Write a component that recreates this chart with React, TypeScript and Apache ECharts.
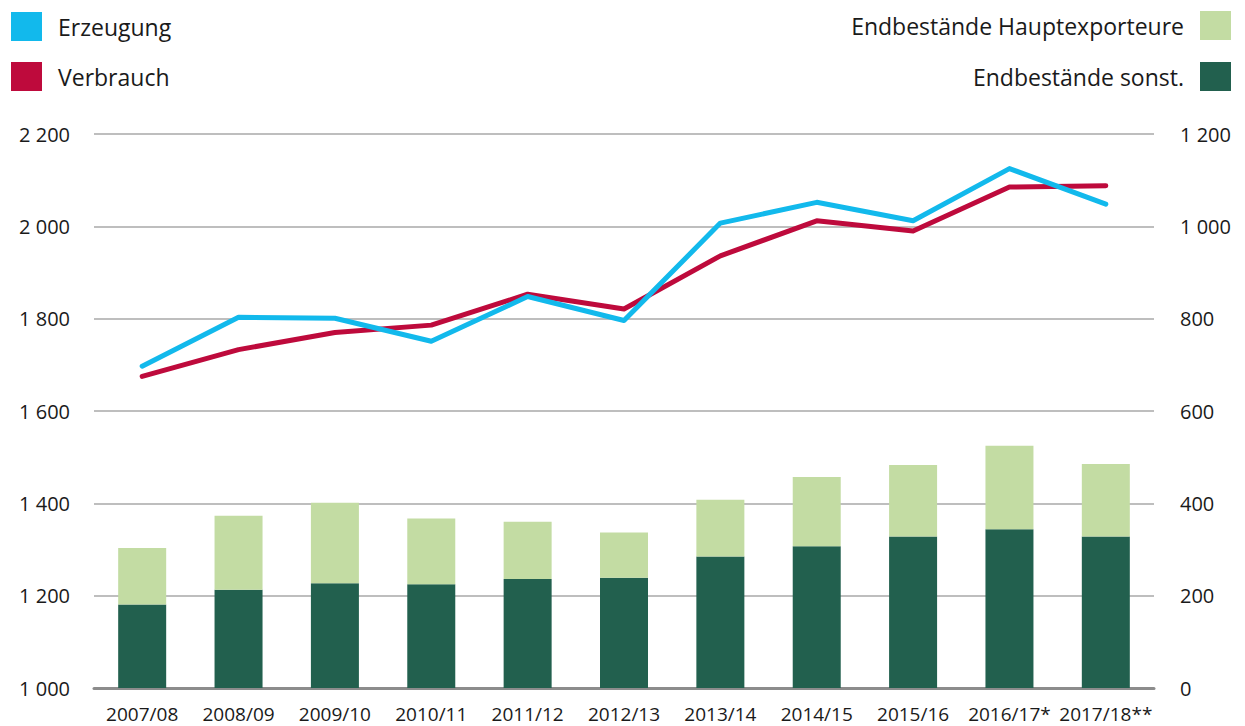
import React, { useEffect, useRef } from "react";
import * as echarts from "echarts";

const categories = [
  "2007/08", "2008/09", "2009/10", "2010/11", "2011/12", "2012/13",
  "2013/14", "2014/15", "2015/16", "2016/17*", "2017/18**",
];
const erzeugung = [1697, 1803, 1801, 1751, 1848, 1796, 2007, 2052, 2012, 2125, 2048];
const verbrauch = [1675, 1733, 1770, 1786, 1853, 1821, 1936, 2012, 1990, 2085, 2088];
const endbestaendeSonst = [181, 213, 227, 225, 236, 239, 285, 307, 328, 344, 328];
const endbestaendeHauptexporteure = [122, 160, 174, 142, 124, 98, 123, 150, 155, 181, 157];

const FONT = "'Open Sans', 'Noto Sans', sans-serif";
const BLUE = "#12b9ec";
const RED = "#be0a3c";
const LIGHT = "#c3dca3";
const DARK = "#22604e";

const fmt = (v: number) => String(v).replace(/\B(?=(\d{3})+(?!\d))/g, " ");

export default function App() {
  const ref = useRef<HTMLDivElement>(null);
  useEffect(() => {
    document.body.style.margin = "0";
    const chart = echarts.init(ref.current!, null, { renderer: "svg" });
    const legendText = { fontSize: 23, color: "#1a1a1a", fontFamily: FONT };
    chart.setOption({
      animation: false,
      backgroundColor: "#ffffff",
      textStyle: { fontFamily: FONT },
      legend: [
        {
          left: 11, top: 12, orient: "vertical", icon: "rect", padding: 0,
          itemWidth: 31, itemHeight: 29, itemGap: 21,
          data: ["Erzeugung", "Verbrauch"],
          textStyle: { ...legendText, padding: [0, 0, 0, 11] },
          selectedMode: false,
        },
        {
          right: 14, top: 11, orient: "vertical", icon: "rect", align: "right", padding: 0,
          itemWidth: 31, itemHeight: 29,
          data: ["Endbestände Hauptexporteure"],
          textStyle: { ...legendText, padding: [0, 11, 0, 0] },
          selectedMode: false,
        },
        {
          right: 14, top: 62, orient: "vertical", icon: "rect", align: "right", padding: 0,
          itemWidth: 31, itemHeight: 29,
          data: ["Endbestände sonst."],
          textStyle: { ...legendText, padding: [0, 11, 0, 0] },
          selectedMode: false,
        },
      ],
      grid: { left: 94, right: 91, top: 134, bottom: 38, containLabel: false },
      xAxis: {
        type: "category",
        data: categories,
        axisTick: { show: false },
        axisLine: { show: true, lineStyle: { color: "#8c8c8c", width: 3 } },
        axisLabel: { fontSize: 19, color: "#1a1a1a", margin: 16, fontFamily: FONT, interval: 0 },
      },
      yAxis: [
        {
          type: "value", min: 1000, max: 2200, interval: 200,
          axisLine: { show: false }, axisTick: { show: false },
          splitLine: { show: true, lineStyle: { color: "#a8a8a8", width: 1.5 } },
          axisLabel: { fontSize: 20, color: "#1a1a1a", margin: 24, fontFamily: FONT, formatter: fmt },
        },
        {
          type: "value", min: 0, max: 1200, interval: 200,
          axisLine: { show: false }, axisTick: { show: false },
          splitLine: { show: false },
          axisLabel: { fontSize: 20, color: "#1a1a1a", margin: 26, align: "left", fontFamily: FONT, formatter: fmt },
        },
      ],
      series: [
        {
          name: "Endbestände sonst.", type: "bar", stack: "b", yAxisIndex: 1,
          data: endbestaendeSonst, barWidth: 48, itemStyle: { color: DARK },
        },
        {
          name: "Endbestände Hauptexporteure", type: "bar", stack: "b", yAxisIndex: 1,
          data: endbestaendeHauptexporteure, barWidth: 48, itemStyle: { color: LIGHT },
        },
        {
          name: "Verbrauch", type: "line", yAxisIndex: 0, data: verbrauch,
          showSymbol: false, symbol: "none", itemStyle: { color: RED },
          lineStyle: { color: RED, width: 5, cap: "round", join: "round" }, z: 3,
        },
        {
          name: "Erzeugung", type: "line", yAxisIndex: 0, data: erzeugung,
          showSymbol: false, symbol: "none", itemStyle: { color: BLUE },
          lineStyle: { color: BLUE, width: 5, cap: "round", join: "round" }, z: 4,
        },
      ],
    });
    return () => chart.dispose();
  }, []);
  return <div ref={ref} style={{ width: 1245, height: 726 }} />;
}
